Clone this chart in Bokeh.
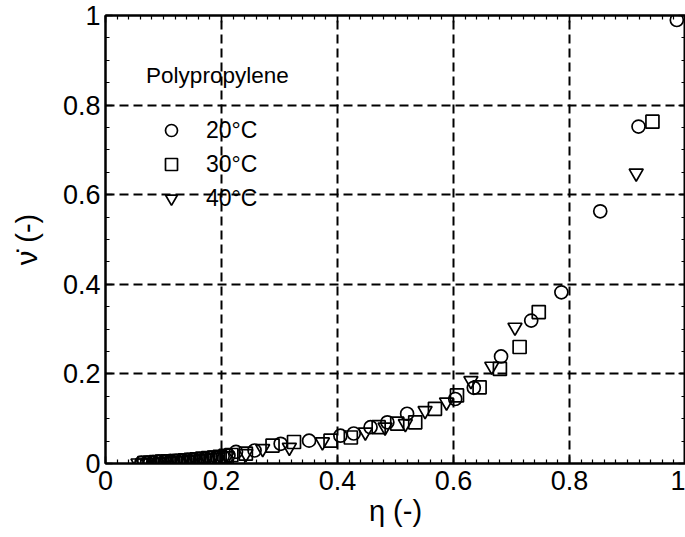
from bokeh.plotting import figure
from bokeh.models import (LinearAxis, Legend, LegendItem, Label, SingleIntervalTicker,
                          Range1d, CustomJSTickFormatter)
from bokeh.embed import file_html
from bokeh.resources import INLINE

# ---------------- data ----------------
eta_20 = [0.062, 0.072, 0.082, 0.092, 0.102, 0.112, 0.122, 0.132, 0.142, 0.152,
          0.162, 0.172, 0.182, 0.192, 0.202, 0.212, 0.225, 0.257, 0.302, 0.351,
          0.405, 0.428, 0.457, 0.486, 0.520, 0.603, 0.635, 0.682, 0.734, 0.786,
          0.853, 0.919, 0.985]
nu_20 = [0.002, 0.002, 0.003, 0.004, 0.005, 0.006, 0.006, 0.007, 0.008, 0.009,
         0.010, 0.011, 0.013, 0.014, 0.016, 0.018, 0.026, 0.029, 0.044, 0.051,
         0.062, 0.067, 0.081, 0.092, 0.111, 0.144, 0.169, 0.239, 0.319, 0.382,
         0.563, 0.752, 0.990]

eta_30 = [0.067, 0.077, 0.087, 0.097, 0.107, 0.117, 0.127, 0.137, 0.147, 0.157,
          0.167, 0.177, 0.187, 0.197, 0.207, 0.217, 0.242, 0.288, 0.325, 0.388,
          0.423, 0.471, 0.503, 0.534, 0.568, 0.606, 0.645, 0.680, 0.714, 0.747,
          0.943]
nu_30 = [0.001, 0.002, 0.003, 0.004, 0.004, 0.005, 0.006, 0.007, 0.008, 0.009,
         0.011, 0.012, 0.013, 0.015, 0.017, 0.019, 0.022, 0.040, 0.048, 0.051,
         0.058, 0.081, 0.089, 0.092, 0.122, 0.152, 0.170, 0.211, 0.260, 0.338,
         0.763]

eta_40 = [0.056, 0.064, 0.074, 0.084, 0.094, 0.104, 0.114, 0.124, 0.134, 0.144,
          0.154, 0.164, 0.174, 0.184, 0.194, 0.210, 0.242, 0.271, 0.317, 0.374,
          0.448, 0.482, 0.517, 0.551, 0.588, 0.630, 0.666, 0.706, 0.915]
nu_40 = [0.001, 0.001, 0.002, 0.002, 0.003, 0.004, 0.005, 0.006, 0.007, 0.008,
         0.009, 0.010, 0.012, 0.013, 0.014, 0.017, 0.022, 0.033, 0.036, 0.048,
         0.070, 0.081, 0.089, 0.118, 0.137, 0.185, 0.217, 0.304, 0.648]

series_labels = ["20°C", "30°C", "40°C"]
legend_title = "Polypropylene"
x_label = "η (-)"
y_label = "ν\u0307 (-)"

FONT = "Liberation Sans"

p = figure(width=685, height=536, output_backend="svg", toolbar_location=None,
           x_range=Range1d(0, 1), y_range=Range1d(0, 1),
           min_border_left=105, min_border_top=15, min_border_right=0,
           min_border_bottom=73, background_fill_color="white",
           border_fill_color="white")

p.outline_line_color = "black"
p.outline_line_width = 2

xt = SingleIntervalTicker(interval=0.2, num_minor_ticks=10)
yt = SingleIntervalTicker(interval=0.2, num_minor_ticks=4)

for ax in p.xaxis:
    ax.ticker = xt
for ax in p.yaxis:
    ax.ticker = yt

def style_axis(ax, show_labels=True):
    ax.axis_line_color = "black"
    ax.axis_line_width = 2
    ax.major_tick_in = 7
    ax.major_tick_out = 0
    ax.minor_tick_in = 4
    ax.minor_tick_out = 0
    ax.major_tick_line_color = "black"
    ax.major_tick_line_width = 1.5
    ax.minor_tick_line_color = "black"
    ax.minor_tick_line_width = 1.2
    ax.major_label_text_font = FONT
    ax.major_label_text_color = "black"
    if show_labels:
        ax.major_label_text_font_size = "27px"
    else:
        ax.formatter = CustomJSTickFormatter(code="return '';")
        ax.major_label_standoff = 0

style_axis(p.xaxis[0])
style_axis(p.yaxis[0])
p.xaxis[0].major_label_standoff = 7
p.yaxis[0].major_label_standoff = 5
p.xaxis[0].axis_label = x_label
p.yaxis[0].axis_label = y_label
for ax in (p.xaxis[0], p.yaxis[0]):
    ax.axis_label_text_font = FONT
    ax.axis_label_text_font_size = "29px"
    ax.axis_label_text_font_style = "normal"
    ax.axis_label_text_color = "black"
p.xaxis[0].axis_label_standoff = 2
p.yaxis[0].axis_label_standoff = 17

top_ax = LinearAxis(ticker=xt)
right_ax = LinearAxis(ticker=yt)
style_axis(top_ax, show_labels=False)
style_axis(right_ax, show_labels=False)
p.add_layout(top_ax, "above")
p.add_layout(right_ax, "right")

p.xgrid.ticker = xt
p.ygrid.ticker = yt
for g in (p.xgrid[0], p.ygrid[0]):
    g.grid_line_color = "black"
    g.grid_line_width = 2
    g.grid_line_dash = "9 5"
    g.grid_line_alpha = 1.0

r20 = p.scatter(eta_20, nu_20, marker="circle", size=13, fill_color=None,
                line_color="black", line_width=1.7)
r30 = p.scatter(eta_30, nu_30, marker="square", size=13, fill_color=None,
                line_color="black", line_width=1.7)
r40 = p.scatter(eta_40, nu_40, marker="inverted_triangle", size=14, fill_color=None,
                line_color="black", line_width=1.7)

legend = Legend(items=[LegendItem(label=series_labels[0], renderers=[r20]),
                       LegendItem(label=series_labels[1], renderers=[r30]),
                       LegendItem(label=series_labels[2], renderers=[r40])],
                location=(51, 248), orientation="vertical",
                glyph_width=30, glyph_height=34, label_height=34,
                label_standoff=20, spacing=0, padding=0, margin=0,
                border_line_color=None, background_fill_alpha=0,
                label_text_font=FONT, label_text_font_size="23px",
                label_text_color="black")
p.add_layout(legend, "center")

title_lbl = Label(x=0.07, y=0.866, text=legend_title, text_font=FONT,
                  text_font_size="22.5px", text_color="black",
                  text_baseline="alphabetic", text_align="left")
p.add_layout(title_lbl)

open("out.html", "w").write(file_html(p, INLINE))
